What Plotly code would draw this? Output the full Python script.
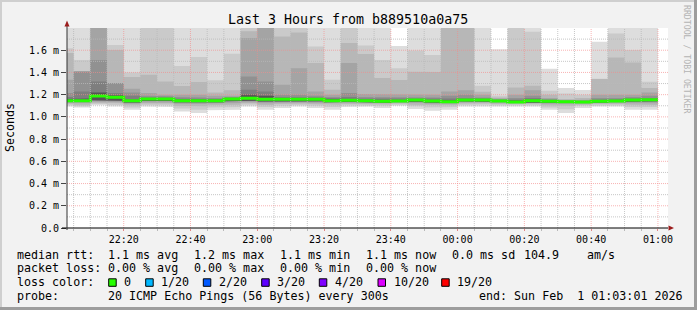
import plotly.graph_objects as go
import pandas as pd

# ---------------- data ----------------
TITLE = "Last 3 Hours from b889510a0a75"
START = "2026-01-31 22:00:00"          # start of first 5-minute interval
X_RANGE = ["2026-01-31 22:03:01", "2026-02-01 01:03:01"]
N_STEPS = 36

# median rtt per 5-min step (ms)
median = [1.146, 1.146, 1.188, 1.176, 1.146, 1.161, 1.161, 1.146, 1.146, 1.146, 1.161, 1.167,
          1.158, 1.158, 1.158, 1.158, 1.146, 1.149, 1.146, 1.140, 1.143, 1.152, 1.143, 1.137,
          1.152, 1.152, 1.143, 1.134, 1.146, 1.140, 1.136, 1.134, 1.140, 1.143, 1.152, 1.155]

# smoke band upper limits (ms), outermost (hi1) to innermost (hi7)
hi1 = [1.95, 1.95, 1.95, 1.95, 1.95, 1.95, 1.95, 1.95, 1.95, 1.95, 1.95, 1.95,
       1.95, 1.95, 1.95, 1.95, 1.95, 1.95, 1.95, 1.95, 1.639, 1.95, 1.95, 1.95,
       1.95, 1.95, 1.609, 1.95, 1.95, 1.433, 1.26, 1.243, 1.676, 1.95, 1.95, 1.95]
hi2 = [1.617, 1.513, 1.95, 1.648, 1.40, 1.95, 1.95, 1.458, 1.539, 1.33, 1.569, 1.95,
       1.95, 1.95, 1.95, 1.633, 1.334, 1.95, 1.643, 1.513, 1.437, 1.598, 1.557, 1.95,
       1.95, 1.28, 1.19, 1.95, 1.766, 1.235, 1.21, 1.2, 1.344, 1.75, 1.602, 1.316]
hi3 = [1.574, 1.408, 1.95, 1.603, 1.359, 1.379, 1.318, 1.278, 1.314, 1.22, 1.239, 1.77,
       1.95, 1.723, 1.759, 1.484, 1.244, 1.664, 1.565, 1.35, 1.333, 1.407, 1.403, 1.95,
       1.95, 1.226, 1.175, 1.264, 1.28, 1.2, 1.16, 1.17, 1.34, 1.535, 1.49, 1.26]
hi4 = [1.334, 1.408, 1.95, 1.304, 1.254, 1.214, 1.2, 1.2, 1.2, 1.19, 1.19, 1.71,
       1.95, 1.289, 1.438, 1.228, 1.2, 1.484, 1.205, 1.2, 1.2, 1.2, 1.2, 1.228,
       1.24, 1.2, 1.165, 1.2, 1.24, 1.17, 1.15, 1.155, 1.2, 1.2, 1.2, 1.22]
hi5 = [1.214, 1.408, 1.513, 1.304, 1.22, 1.19, 1.185, 1.18, 1.175, 1.17, 1.18, 1.363,
       1.318, 1.2, 1.2, 1.19, 1.18, 1.214, 1.18, 1.175, 1.175, 1.18, 1.175, 1.19,
       1.2, 1.175, 1.158, 1.17, 1.19, 1.16, 1.145, 1.148, 1.17, 1.17, 1.18, 1.19]
hi6 = [1.18, 1.228, 1.318, 1.214, 1.19, 1.175, 1.175, 1.165, 1.162, 1.16, 1.172, 1.244,
       1.228, 1.18, 1.18, 1.175, 1.165, 1.18, 1.165, 1.16, 1.16, 1.165, 1.16, 1.165,
       1.17, 1.165, 1.153, 1.155, 1.17, 1.152, 1.142, 1.142, 1.155, 1.16, 1.165, 1.17]
hi7 = [1.16, 1.165, 1.219, 1.195, 1.155, 1.17, 1.17, 1.155, 1.155, 1.155, 1.17, 1.2,
       1.19, 1.17, 1.17, 1.168, 1.163, 1.16, 1.155, 1.15, 1.152, 1.16, 1.152, 1.15,
       1.162, 1.16, 1.15, 1.145, 1.155, 1.148, 1.14, 1.142, 1.148, 1.15, 1.16, 1.162]

# smoke band lower limits (ms), outermost (lo1) to inner (lo5)
lo1 = [1.094, 1.085, 1.105, 1.094, 1.065, 1.094, 1.090, 1.049, 1.034, 1.060, 1.064, 1.094,
       1.064, 1.080, 1.094, 1.080, 1.064, 1.090, 1.094, 1.080, 1.100, 1.070, 1.055, 1.064,
       1.094, 1.100, 1.094, 1.100, 1.094, 1.064, 1.034, 1.080, 1.094, 1.094, 1.064, 1.064]
lo2 = [1.105, 1.095, 1.115, 1.108, 1.085, 1.108, 1.105, 1.075, 1.065, 1.085, 1.09, 1.11,
       1.09, 1.1, 1.108, 1.1, 1.09, 1.105, 1.105, 1.1, 1.11, 1.095, 1.085, 1.09,
       1.108, 1.112, 1.105, 1.108, 1.105, 1.085, 1.068, 1.1, 1.105, 1.105, 1.09, 1.09]
lo3 = [1.118, 1.11, 1.128, 1.122, 1.105, 1.12, 1.12, 1.1, 1.095, 1.105, 1.11, 1.122,
       1.108, 1.115, 1.12, 1.115, 1.11, 1.118, 1.115, 1.112, 1.12, 1.11, 1.105, 1.105,
       1.12, 1.122, 1.115, 1.115, 1.118, 1.105, 1.1, 1.11, 1.115, 1.118, 1.11, 1.108]
lo4 = [1.126, 1.125, 1.138, 1.132, 1.118, 1.13, 1.13, 1.118, 1.115, 1.12, 1.125, 1.132,
       1.122, 1.128, 1.13, 1.128, 1.122, 1.128, 1.125, 1.122, 1.128, 1.125, 1.118, 1.118,
       1.13, 1.132, 1.125, 1.122, 1.128, 1.118, 1.115, 1.118, 1.125, 1.128, 1.125, 1.122]
lo5 = [1.134, 1.134, 1.15, 1.145, 1.13, 1.142, 1.142, 1.132, 1.13, 1.132, 1.14, 1.145,
       1.138, 1.14, 1.14, 1.14, 1.132, 1.136, 1.134, 1.128, 1.134, 1.136, 1.13, 1.126,
       1.14, 1.14, 1.134, 1.128, 1.13, 1.128, 1.125, 1.125, 1.13, 1.134, 1.138, 1.14]

Y_TICKVALS = [0.0, 0.2, 0.4, 0.6, 0.8, 1.0, 1.2, 1.4, 1.6]
Y_TICKTEXT = ["0.0", "0.2 m", "0.4 m", "0.6 m", "0.8 m", "1.0 m", "1.2 m", "1.4 m", "1.6 m"]
X_TICKVALS = ["2026-01-31 22:20", "2026-01-31 22:40", "2026-01-31 23:00", "2026-01-31 23:20",
              "2026-01-31 23:40", "2026-02-01 00:00", "2026-02-01 00:20", "2026-02-01 00:40",
              "2026-02-01 01:00"]
X_TICKTEXT = ["22:20", "22:40", "23:00", "23:20", "23:40", "00:00", "00:20", "00:40", "01:00"]

LOSS_LABELS = ["0", "1/20", "2/20", "3/20", "4/20", "10/20", "19/20"]
LOSS_COLORS = ["#26ff00", "#00b8ff", "#0059ff", "#5e00ff", "#7e00ff", "#dd00ff", "#ff0000"]

# ---------------- geometry / style ----------------
W, H = 697, 310
PL, PR, PT, PB = 67, 668, 28, 228
FONT = "DejaVu Sans Mono"


def px(x):
    return (x - PL) / (PR - PL)


def py(y):
    return (PB - y) / (PB - PT)


edges = list(pd.date_range(START, periods=N_STEPS + 1, freq="5min"))

fig = go.Figure()


def band(top, bot, color):
    xs, ys = [], []
    for i in range(len(top)):
        xs += [edges[i], edges[i + 1]]
        ys += [top[i], top[i]]
    for i in reversed(range(len(bot))):
        xs += [edges[i + 1], edges[i]]
        ys += [bot[i], bot[i]]
    fig.add_trace(go.Scatter(x=xs, y=ys, mode="lines", fill="toself", fillcolor=color,
                             line=dict(width=0, color="rgba(0,0,0,0)"), hoverinfo="skip"))


bands = [(hi1, lo1, "#dddddd"), (hi2, lo2, "#cacaca"), (hi3, lo3, "#b7b7b7"),
         (hi4, lo4, "#a4a4a4"), (hi5, lo5, "#919191"), (hi6, lo5, "#7e7e7e"),
         (hi7, lo5, "#555555")]
for t, b, c in bands:
    band(t, b, c)

fig.add_trace(go.Scatter(x=edges, y=median + [median[-1]], mode="lines", line_shape="hv",
                         line=dict(color=LOSS_COLORS[0], width=3), hoverinfo="skip"))

shapes = []
minor_col = "rgba(185,185,185,0.8)"
major_col = "rgba(245,140,140,0.65)"
dash = "1px,1px"
# vertical grid
grid_times = pd.date_range("2026-01-31 22:05", "2026-02-01 01:00", freq="5min")
for t in grid_times:
    major = (t.minute % 20 == 0)
    shapes.append(dict(type="line", xref="x", yref="paper", x0=t, x1=t, y0=0, y1=1,
                       line=dict(color=major_col if major else minor_col, width=1, dash=dash),
                       layer="above"))
# horizontal grid
for k in range(1, 18):
    v = k / 10
    major = (k % 2 == 0)
    shapes.append(dict(type="line", xref="paper", yref="y", x0=0, x1=1, y0=v, y1=v,
                       line=dict(color=major_col if major else minor_col, width=1, dash=dash),
                       layer="above"))
# axes
shapes.append(dict(type="line", xref="paper", yref="paper", x0=px(62), x1=px(668),
                   y0=0, y1=0, line=dict(color="#000000", width=1.2), layer="above"))
shapes.append(dict(type="line", xref="paper", yref="paper", x0=0, x1=0,
                   y0=py(230), y1=py(23), line=dict(color="#333333", width=1), layer="above"))
# arrows
shapes.append(dict(type="path", xref="paper", yref="paper",
                   path=f"M {px(64.5)} {py(26.5)} L {px(69.5)} {py(26.5)} L {px(67)} {py(20.5)} Z",
                   fillcolor="#9b1c1c", line=dict(width=0), layer="above"))
shapes.append(dict(type="path", xref="paper", yref="paper",
                   path=f"M {px(668.5)} {py(225.5)} L {px(668.5)} {py(230.5)} L {px(674)} {py(228)} Z",
                   fillcolor="#9b1c1c", line=dict(width=0), layer="above"))
# frame of the image
shapes.append(dict(type="rect", xref="paper", yref="paper", x0=px(0), x1=px(W), y0=py(0), y1=py(2),
                   fillcolor="#cfcfcf", line=dict(width=0)))
shapes.append(dict(type="rect", xref="paper", yref="paper", x0=px(0), x1=px(2), y0=py(0), y1=py(H),
                   fillcolor="#cfcfcf", line=dict(width=0)))
shapes.append(dict(type="rect", xref="paper", yref="paper", x0=px(0), x1=px(W), y0=py(H - 3), y1=py(H),
                   fillcolor="#9d9d9d", line=dict(width=0)))
shapes.append(dict(type="rect", xref="paper", yref="paper", x0=px(W - 3), x1=px(W), y0=py(0), y1=py(H),
                   fillcolor="#9d9d9d", line=dict(width=0)))
# loss colour boxes
box_x = [108.7, 145.7, 203.3, 261.7, 319.3, 378.0, 441.7]
for bx, c in zip(box_x, LOSS_COLORS):
    shapes.append(dict(type="rect", xref="paper", yref="paper", x0=px(bx), x1=px(bx + 7.5),
                       y0=py(286.3), y1=py(278.8), fillcolor=c,
                       line=dict(color="#000000", width=1)))

annotations = []


def ann(x, y, text, size=11.66, color="#000000", anchor="left", angle=0):
    annotations.append(dict(xref="paper", yref="paper", x=px(x), y=py(y), text=text,
                            showarrow=False, xanchor=anchor, yanchor="middle", borderpad=0,
                            textangle=angle, font=dict(family=FONT, size=size, color=color)))


NB = "\u00a0"
ann(348, 19, TITLE, size=13.3, anchor="center")
ann(10, 128, "Seconds", size=11.66, anchor="center", angle=-90)
ann(687, 59, "RRDTOOL / TOBI OETIKER", size=8.2, color="#b4b4b4", anchor="center", angle=90)

r1, r2, r3, r4 = 254.7, 268.3, 282.3, 296.0
ann(15.5, r1, "median rtt:")
for x, t in zip([106.8, 192.8, 278.8, 364.5, 451.2, 522.5, 586.0],
                ["1.1 ms avg", "1.2 ms max", "1.1 ms min", "1.1 ms now", "0.0 ms sd", "104.9", "am/s"]):
    ann(x, r1, t.replace(" ", NB))
ann(15.5, r2, "packet loss:".replace(" ", NB))
for x, t in zip([106.8, 192.8, 278.8, 364.5],
                ["0.00 % avg", "0.00 % max", "0.00 % min", "0.00 % now"]):
    ann(x, r2, t.replace(" ", NB))
ann(15.5, r3, "loss color:".replace(" ", NB))
for x, t in zip([123.0, 159.8, 217.8, 275.8, 333.8, 392.8, 456.2], LOSS_LABELS):
    ann(x, r3, t)
ann(15.5, r4, "probe:")
ann(106.8, r4, "20 ICMP Echo Pings (56 Bytes) every 300s".replace(" ", NB))
ann(477.8, r4, "end: Sun Feb  1 01:03:01 2026".replace(" ", NB))

fig.update_layout(
    width=W, height=H, autosize=False,
    margin=dict(l=PL, r=W - PR, t=PT, b=H - PB, pad=0),
    paper_bgcolor="#f2f2f2", plot_bgcolor="#ffffff",
    showlegend=False,
    shapes=shapes, annotations=annotations,
    font=dict(family=FONT, size=10, color="#000000"),
    xaxis=dict(type="date", range=X_RANGE, showgrid=False, zeroline=False, showline=False,
               tickmode="array", tickvals=X_TICKVALS, ticktext=X_TICKTEXT,
               ticks="outside", ticklen=2, tickcolor="rgba(235,120,120,0.8)", tickwidth=1,
               minor=dict(ticks="outside", ticklen=2, tickcolor="rgba(170,170,170,0.8)",
                          tick0="2026-01-31 22:00", dtick=300000, showgrid=False),
               tickfont=dict(family=FONT, size=10, color="#000000"), fixedrange=True),
    yaxis=dict(range=[0, 1.8], showgrid=False, zeroline=False, showline=False,
               tickmode="array", tickvals=Y_TICKVALS, ticktext=Y_TICKTEXT,
               ticks="outside", ticklen=5, tickcolor="#444444", tickwidth=1,
               tickfont=dict(family=FONT, size=10, color="#000000"), fixedrange=True),
)

fig.write_html("out.html")
